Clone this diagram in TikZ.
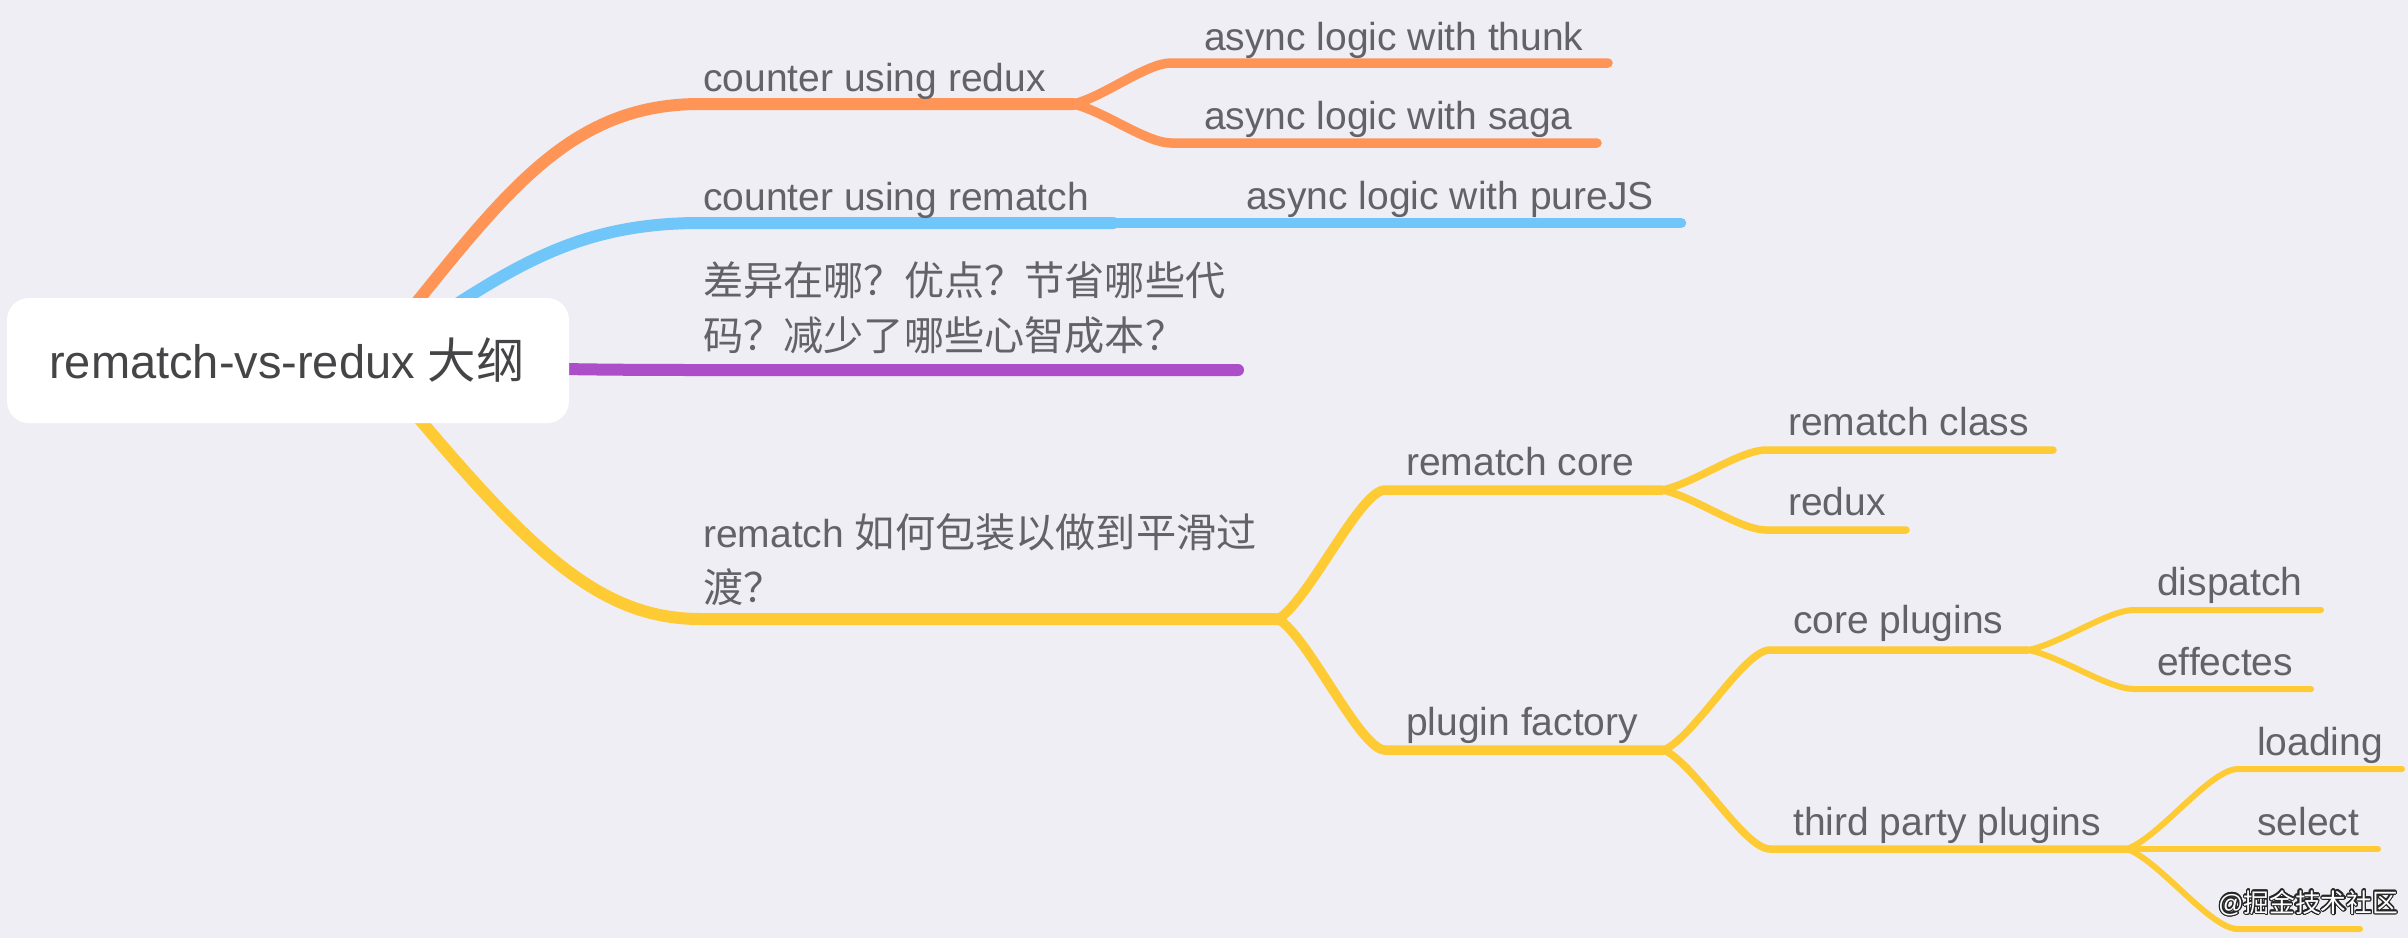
\documentclass[tikz,border=0pt]{standalone}
\usepackage{fontspec}
\setmainfont{Liberation Sans}
\newfontfamily\cjk[Scale=1.03]{Noto Sans CJK SC}
\usepackage[copies]{contour}
\contourlength{1.3pt}
\usetikzlibrary{positioning}

\definecolor{bgcol}{HTML}{EFEEF4}
\definecolor{txtgray}{HTML}{626268}
\definecolor{rootgray}{HTML}{454548}
\definecolor{orangec}{HTML}{FF9457}
\definecolor{bluec}{HTML}{70C6F8}
\definecolor{purplec}{HTML}{AB4EC7}
\definecolor{yellowc}{HTML}{FECB35}

\tikzset{
	branch/.style = {line cap = round, line join = round},
	lone/.style = {line width = 12pt},
	ltwo/.style = {line width = 9.5pt},
	lthree/.style = {line width = 7.5pt},
	lfour/.style = {line width = 6pt},
	topic/.style = {anchor = base west, inner sep = 0pt, text = txtgray, align = left,
		font = \fontsize{39}{55}\selectfont},
}

\begin{document}
\begin{tikzpicture}[x = 1pt, y = -1pt]
	\fill[bgcol] (0,0) rectangle (2408,938);
	\useasboundingbox (0,0) rectangle (2408,938);

	% line ends
	\coordinate (hub) at (370,360);
	\coordinate (cr-s) at (700,104);   \coordinate (cr-e) at (1073,104);
	\coordinate (cm-s) at (700,223);   \coordinate (cm-e) at (1113,223);
	\coordinate (df-s) at (700,370);   \coordinate (df-e) at (1238,370);
	\coordinate (sm-s) at (700,619);   \coordinate (sm-e) at (1278,619);

	\coordinate (th-s) at (1171,63);   \coordinate (th-e) at (1608,63);
	\coordinate (sg-s) at (1171,143);  \coordinate (sg-e) at (1597,143);
	\coordinate (pj-e) at (1681,223);

	\coordinate (rc-s) at (1385,490);  \coordinate (rc-e) at (1662,490);
	\coordinate (pf-s) at (1385,750);  \coordinate (pf-e) at (1664,750);
	\coordinate (cl-s) at (1766,450);  \coordinate (cl-e) at (2053,450);
	\coordinate (rx-s) at (1766,530);  \coordinate (rx-e) at (1906,530);
	\coordinate (cp-s) at (1770,650);  \coordinate (cp-e) at (2028,650);
	\coordinate (tp-s) at (1770,849);  \coordinate (tp-e) at (2127,849);
	\coordinate (ds-s) at (2134,610);  \coordinate (ds-e) at (2321,610);
	\coordinate (ef-s) at (2134,689);  \coordinate (ef-e) at (2311,689);
	\coordinate (ld-s) at (2238,769);  \coordinate (ld-e) at (2402,769);
	\coordinate (sl-e) at (2378,849);
	\coordinate (hd-s) at (2238,929);  \coordinate (hd-e) at (2360,929);

	% first level
	\draw[branch, orangec, lone] (hub) .. controls +(127,-155) and +(-140,0) .. (cr-s) -- (cr-e);
	\draw[branch, bluec, lone] (hub) .. controls +(127,-80) and +(-140,0) .. (cm-s) -- (cm-e);
	\draw[branch, purplec, lone] (hub) .. controls +(100,8) and +(-140,0) .. (df-s) -- (df-e);
	\draw[branch, yellowc, lone] (hub) .. controls +(147,177) and +(-110,0) .. (sm-s) -- (sm-e);

	% orange and blue
	\begin{scope}[branch, ltwo]
		\draw[orangec] (cr-e) .. controls +(29,-6) and +(-25,0) .. (th-s) -- (th-e);
		\draw[orangec] (cr-e) .. controls +(29,6) and +(-25,0) .. (sg-s) -- (sg-e);
		\draw[bluec, line width = 10.5pt] (cm-e) -- (pj-e);
	\end{scope}

	% yellow
	\begin{scope}[branch, yellowc]
		\draw[ltwo] (sm-e) .. controls +(30,-17) and +(-25,0) .. (rc-s) -- (rc-e);
		\draw[ltwo] (sm-e) .. controls +(30,17) and +(-25,0) .. (pf-s) -- (pf-e);
		\draw[lthree] (rc-e) .. controls +(31,-6) and +(-26,0) .. (cl-s) -- (cl-e);
		\draw[lthree] (rc-e) .. controls +(31,6) and +(-26,0) .. (rx-s) -- (rx-e);
		\draw[lthree] (pf-e) .. controls +(32,-15) and +(-26,0) .. (cp-s) -- (cp-e);
		\draw[lthree] (pf-e) .. controls +(32,15) and +(-26,0) .. (tp-s) -- (tp-e);
		\draw[lfour] (cp-e) .. controls +(32,-6) and +(-26,0) .. (ds-s) -- (ds-e);
		\draw[lfour] (cp-e) .. controls +(32,6) and +(-26,0) .. (ef-s) -- (ef-e);
		\draw[lfour] (tp-e) .. controls +(33,-12) and +(-28,0) .. (ld-s) -- (ld-e);
		\draw[lfour] (tp-e) -- (sl-e);
		\draw[lfour] (tp-e) .. controls +(33,12) and +(-28,0) .. (hd-s) -- (hd-e);
	\end{scope}

	% root
	\node[fill = white, rounded corners = 22pt, minimum width = 562pt, minimum height = 125pt,
		inner sep = 0pt] (root) at (288,360.5) {};
	\node[anchor = base, inner sep = 0pt, text = rootgray, font = \fontsize{47}{55}\selectfont]
		(root-txt) at (287,378) {rematch-vs-redux {\cjk 大纲}};

	% topics (two-line ones sit on their last line)
	\node[topic] (t-cr) at (703,91) {counter using redux};
	\node[topic] (t-th) at (1204,50) {async logic with thunk};
	\node[topic] (t-sg) at (1204,129) {async logic with saga};
	\node[topic] (t-cm) at (703,210) {counter using rematch};
	\node[topic] (t-pj) at (1246,209) {async logic with pureJS};
	\node[topic] (t-df) at (703,350) {\cjk 差异在哪？优点？节省哪些代\\\cjk 码？减少了哪些心智成本？};
	\node[topic] (t-sm) at (703,602) {rematch {\cjk 如何包装以做到平滑过}\\\cjk 渡？};
	\node[topic] (t-rc) at (1406,475) {rematch core};
	\node[topic] (t-pf) at (1406,735) {plugin factory};
	\node[topic] (t-cl) at (1788,435) {rematch class};
	\node[topic] (t-rx) at (1788,515) {redux};
	\node[topic] (t-cp) at (1793,633) {core plugins};
	\node[topic] (t-tp) at (1793,835) {third party plugins};
	\node[topic] (t-ds) at (2157,595) {dispatch};
	\node[topic] (t-ef) at (2157,675) {effectes};
	\node[topic] (t-ld) at (2257,755) {loading};
	\node[topic] (t-sl) at (2257,835) {select};

	\node[anchor = base west, inner sep = 0pt, font = \fontsize{25}{25}\selectfont] (mark) at (2218,912)
		{\contour{black!85}{\textcolor{white}{@\cjk 掘金技术社区}}};
\end{tikzpicture}
\end{document}
